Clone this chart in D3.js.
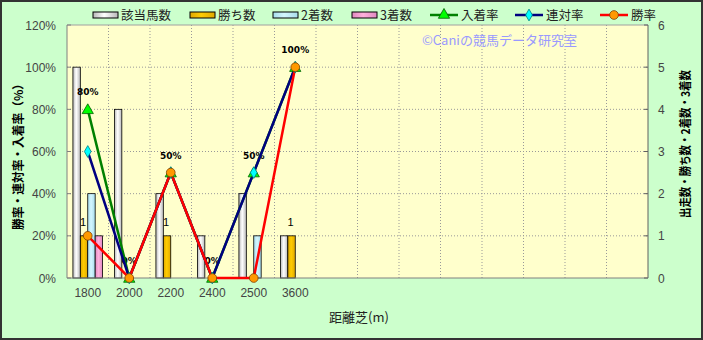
<!DOCTYPE html>
<html>
<head>
<meta charset="utf-8">
<script src="https://cdn.jsdelivr.net/npm/d3@7"></script>
<style>
  html, body { margin: 0; padding: 0; background: #fff; }
  svg { display: block; font-family: "Noto Sans CJK JP", "Noto Sans", sans-serif; }
</style>
</head>
<body>
<svg id="chart" width="703" height="340"></svg>
<script>
// categories (14 slots, only first 6 used)
const distances = ['1800', '2000', '2200', '2400', '2500', '3600', '', '', '', '', '', '', '', ''];
const usedDistances = ['1800', '2000', '2200', '2400', '2500', '3600'];

// counts (right axis)
const runners = [5, 4, 2, 1, 2, 1];
const wins = [1, 0, 1, 0, 0, 1];
const seconds = [2, 0, 0, 0, 1, 0];
const thirds = [1, 0, 0, 0, 0, 0];

// rates in % (left axis)
const placeRate = [80, 0, 50, 0, 50, 100];
const rentaiRate = [60, 0, 50, 0, 50, 100];
const winRate = [20, 0, 50, 0, 0, 100];

const leftTicks = [0, 20, 40, 60, 80, 100, 120];
const rightTicks = [0, 1, 2, 3, 4, 5, 6];

const width = 703, height = 340;
const plot = { left: 67, right: 648, top: 25, bottom: 278 };

const svg = d3.select('#chart');
const defs = svg.append('defs');

function cylGrad(id, edge, mid) {
  const g = defs.append('linearGradient').attr('id', id)
    .attr('x1', '0%').attr('x2', '100%').attr('y1', '0%').attr('y2', '0%');
  g.append('stop').attr('offset', '0%').attr('stop-color', edge);
  g.append('stop').attr('offset', '45%').attr('stop-color', mid);
  g.append('stop').attr('offset', '100%').attr('stop-color', edge);
}
cylGrad('gRun', '#b8b8b8', '#ffffff');
cylGrad('gWin', '#e0a800', '#ffcc00');
cylGrad('gSec', '#a8dcec', '#d4f6ff');
cylGrad('gThi', '#e088c0', '#ffb0dc');

// background
svg.append('rect').attr('x', 1).attr('y', 1).attr('width', width - 2).attr('height', height - 2)
  .attr('fill', '#ccffcc').attr('stroke', '#333').attr('stroke-width', 2);
svg.append('rect').attr('x', plot.left).attr('y', plot.top)
  .attr('width', plot.right - plot.left).attr('height', plot.bottom - plot.top)
  .attr('fill', '#ffffcc');

const x = d3.scaleBand().domain(d3.range(distances.length)).range([plot.left, plot.right]);
const yL = d3.scaleLinear().domain([0, 120]).range([plot.bottom, plot.top]);
const yR = d3.scaleLinear().domain([0, 6]).range([plot.bottom, plot.top]);

// grid
const grid = svg.append('g');
leftTicks.slice(1, -1).forEach(t => {
  grid.append('line').attr('x1', plot.left).attr('x2', plot.right)
    .attr('y1', yL(t)).attr('y2', yL(t))
    .attr('stroke', '#999').attr('stroke-dasharray', '1,2');
});
d3.range(1, distances.length).forEach(i => {
  grid.append('line').attr('x1', x(i)).attr('x2', x(i))
    .attr('y1', plot.top).attr('y2', plot.bottom)
    .attr('stroke', '#999').attr('stroke-dasharray', '1,2');
});
svg.append('line').attr('x1', plot.left).attr('x2', plot.right)
  .attr('y1', plot.top).attr('y2', plot.top).attr('stroke', '#a0a0a0');

// bars
const barSeries = [
  { key: '該当馬数', values: runners, fill: 'url(#gRun)' },
  { key: '勝ち数', values: wins, fill: 'url(#gWin)' },
  { key: '2着数', values: seconds, fill: 'url(#gSec)' },
  { key: '3着数', values: thirds, fill: 'url(#gThi)' }
];
const groupW = x.bandwidth() * 0.715;
const xi = d3.scaleBand().domain(d3.range(barSeries.length)).range([0, groupW]);
const bars = svg.append('g');
usedDistances.forEach((_, i) => {
  const gx = x(i) + (x.bandwidth() - groupW) / 2;
  barSeries.forEach((s, j) => {
    const v = s.values[i];
    if (v <= 0) return;
    bars.append('rect')
      .attr('x', gx + xi(j)).attr('width', xi.bandwidth())
      .attr('y', yR(v)).attr('height', yR(0) - yR(v))
      .attr('fill', s.fill).attr('stroke', '#000').attr('stroke-width', 0.8);
  });
});

// win count labels
const lblFont = 'bold 9px "DejaVu Sans", sans-serif';
usedDistances.forEach((_, i) => {
  if (wins[i] <= 0) return;
  const gx = x(i) + (x.bandwidth() - groupW) / 2;
  svg.append('text').attr('x', gx + xi(1) + xi.bandwidth() / 2 - 1).attr('y', yR(wins[i]) - 10)
    .attr('text-anchor', 'middle').attr('font-size', 11).attr('font-family', 'Liberation Sans, Arial, sans-serif')
    .attr('fill', '#000').text(wins[i]);
});

// axes
const axisColor = '#808080';
svg.append('line').attr('x1', plot.left).attr('x2', plot.left)
  .attr('y1', plot.top).attr('y2', plot.bottom).attr('stroke', axisColor);
svg.append('line').attr('x1', plot.right).attr('x2', plot.right)
  .attr('y1', plot.top).attr('y2', plot.bottom).attr('stroke', '#606060');
svg.append('line').attr('x1', plot.left).attr('x2', plot.right)
  .attr('y1', plot.bottom).attr('y2', plot.bottom).attr('stroke', axisColor);

leftTicks.forEach(t => {
  svg.append('line').attr('x1', plot.left).attr('x2', plot.left + 4)
    .attr('y1', yL(t)).attr('y2', yL(t)).attr('stroke', axisColor);
  svg.append('text').attr('x', 56).attr('y', yL(t) + 4.5).attr('text-anchor', 'end')
    .attr('font-size', 12).attr('fill', '#444').attr('font-family', 'Liberation Sans, Arial, sans-serif')
    .text(t + '%');
});
rightTicks.forEach(t => {
  svg.append('line').attr('x1', plot.right - 4).attr('x2', plot.right)
    .attr('y1', yR(t)).attr('y2', yR(t)).attr('stroke', '#606060');
  svg.append('text').attr('x', 658).attr('y', yR(t) + 4.5).attr('text-anchor', 'start')
    .attr('font-size', 12).attr('fill', '#444').attr('font-family', 'Liberation Sans, Arial, sans-serif')
    .text(t);
});
distances.forEach((d, i) => {
  if (!d) return;
  svg.append('text').attr('x', x(i) + x.bandwidth() / 2).attr('y', 297).attr('text-anchor', 'middle')
    .attr('font-size', 12).attr('fill', '#444').attr('font-family', 'Liberation Sans, Arial, sans-serif')
    .text(d);
});

// axis titles
svg.append('text').attr('transform', 'translate(23,154) rotate(-90)').attr('text-anchor', 'middle')
  .attr('font-size', 12).attr('font-weight', 'bold').attr('fill', '#000')
  .attr('textLength', 152).attr('lengthAdjust', 'spacingAndGlyphs').text('勝率・連対率・入着率（%）');
svg.append('text').attr('transform', 'translate(690,144) rotate(-90)').attr('text-anchor', 'middle')
  .attr('font-size', 12).attr('font-weight', 'bold').attr('fill', '#000')
  .attr('textLength', 148).attr('lengthAdjust', 'spacingAndGlyphs').text('出走数・勝ち数・2着数・3着数');
svg.append('text').attr('x', 359).attr('y', 322).attr('text-anchor', 'middle')
  .attr('font-size', 13).attr('fill', '#222').text('距離芝(m)');

// watermark
svg.append('text').attr('x', 422).attr('y', 45).attr('font-size', 13).attr('fill', '#9999ff')
  .text('©Caniの競馬データ研究室');

// lines
const cx = i => x(i) + x.bandwidth() / 2;
const lineSeries = [
  { key: '入着率', values: placeRate, stroke: '#008000', marker: 'triangle', mfill: '#00ff00', mstroke: '#006000' },
  { key: '連対率', values: rentaiRate, stroke: '#000080', marker: 'diamond', mfill: '#00ffff', mstroke: '#008080' },
  { key: '勝率', values: winRate, stroke: '#ff0000', marker: 'circle', mfill: '#ff9900', mstroke: '#804000' }
];
const symType = { triangle: d3.symbolTriangle, diamond: d3.symbolDiamond, circle: d3.symbolCircle };
const symSize = { triangle: 55, diamond: 40, circle: 60 };
const lineGen = d3.line().x((d, i) => cx(i)).y(d => yL(d));

// rate labels (入着率)
usedDistances.forEach((_, i) => {
  svg.append('text').attr('x', cx(i)).attr('y', yL(placeRate[i]) - 14).attr('text-anchor', 'middle')
    .style('font', lblFont).attr('fill', '#000').text(placeRate[i] + '%');
});

lineSeries.forEach(s => {
  svg.append('path').datum(s.values).attr('d', lineGen)
    .attr('fill', 'none').attr('stroke', s.stroke).attr('stroke-width', 2.5);
});
lineSeries.forEach(s => {
  s.values.forEach((v, i) => {
    svg.append('path').attr('d', d3.symbol().type(symType[s.marker]).size(symSize[s.marker])())
      .attr('transform', `translate(${cx(i)},${yL(v) + (s.marker === 'triangle' ? 1 : 0)})`)
      .attr('fill', s.mfill).attr('stroke', s.mstroke).attr('stroke-width', 0.8);
  });
});

// legend
const leg = svg.append('g').attr('font-size', 12.5).attr('fill', '#222');
const legY = 15;
const barLegX = [93, 190, 273, 352];
barSeries.forEach((s, j) => {
  leg.append('rect').attr('x', barLegX[j]).attr('y', legY - 3).attr('width', 25).attr('height', 6)
    .attr('fill', s.fill).attr('stroke', '#000').attr('stroke-width', 1);
  leg.append('text').attr('x', barLegX[j] + 28).attr('y', legY + 5).text(s.key);
});
const lineLegX = [430, 515, 600];
lineSeries.forEach((s, j) => {
  leg.append('line').attr('x1', lineLegX[j]).attr('x2', lineLegX[j] + 28)
    .attr('y1', legY).attr('y2', legY).attr('stroke', s.stroke).attr('stroke-width', 2.5);
  leg.append('path').attr('d', d3.symbol().type(symType[s.marker]).size(symSize[s.marker])())
    .attr('transform', `translate(${lineLegX[j] + 14},${legY})`)
    .attr('fill', s.mfill).attr('stroke', s.mstroke).attr('stroke-width', 0.8);
  leg.append('text').attr('x', lineLegX[j] + 31).attr('y', legY + 5).text(s.key);
});
</script>
</body>
</html>
